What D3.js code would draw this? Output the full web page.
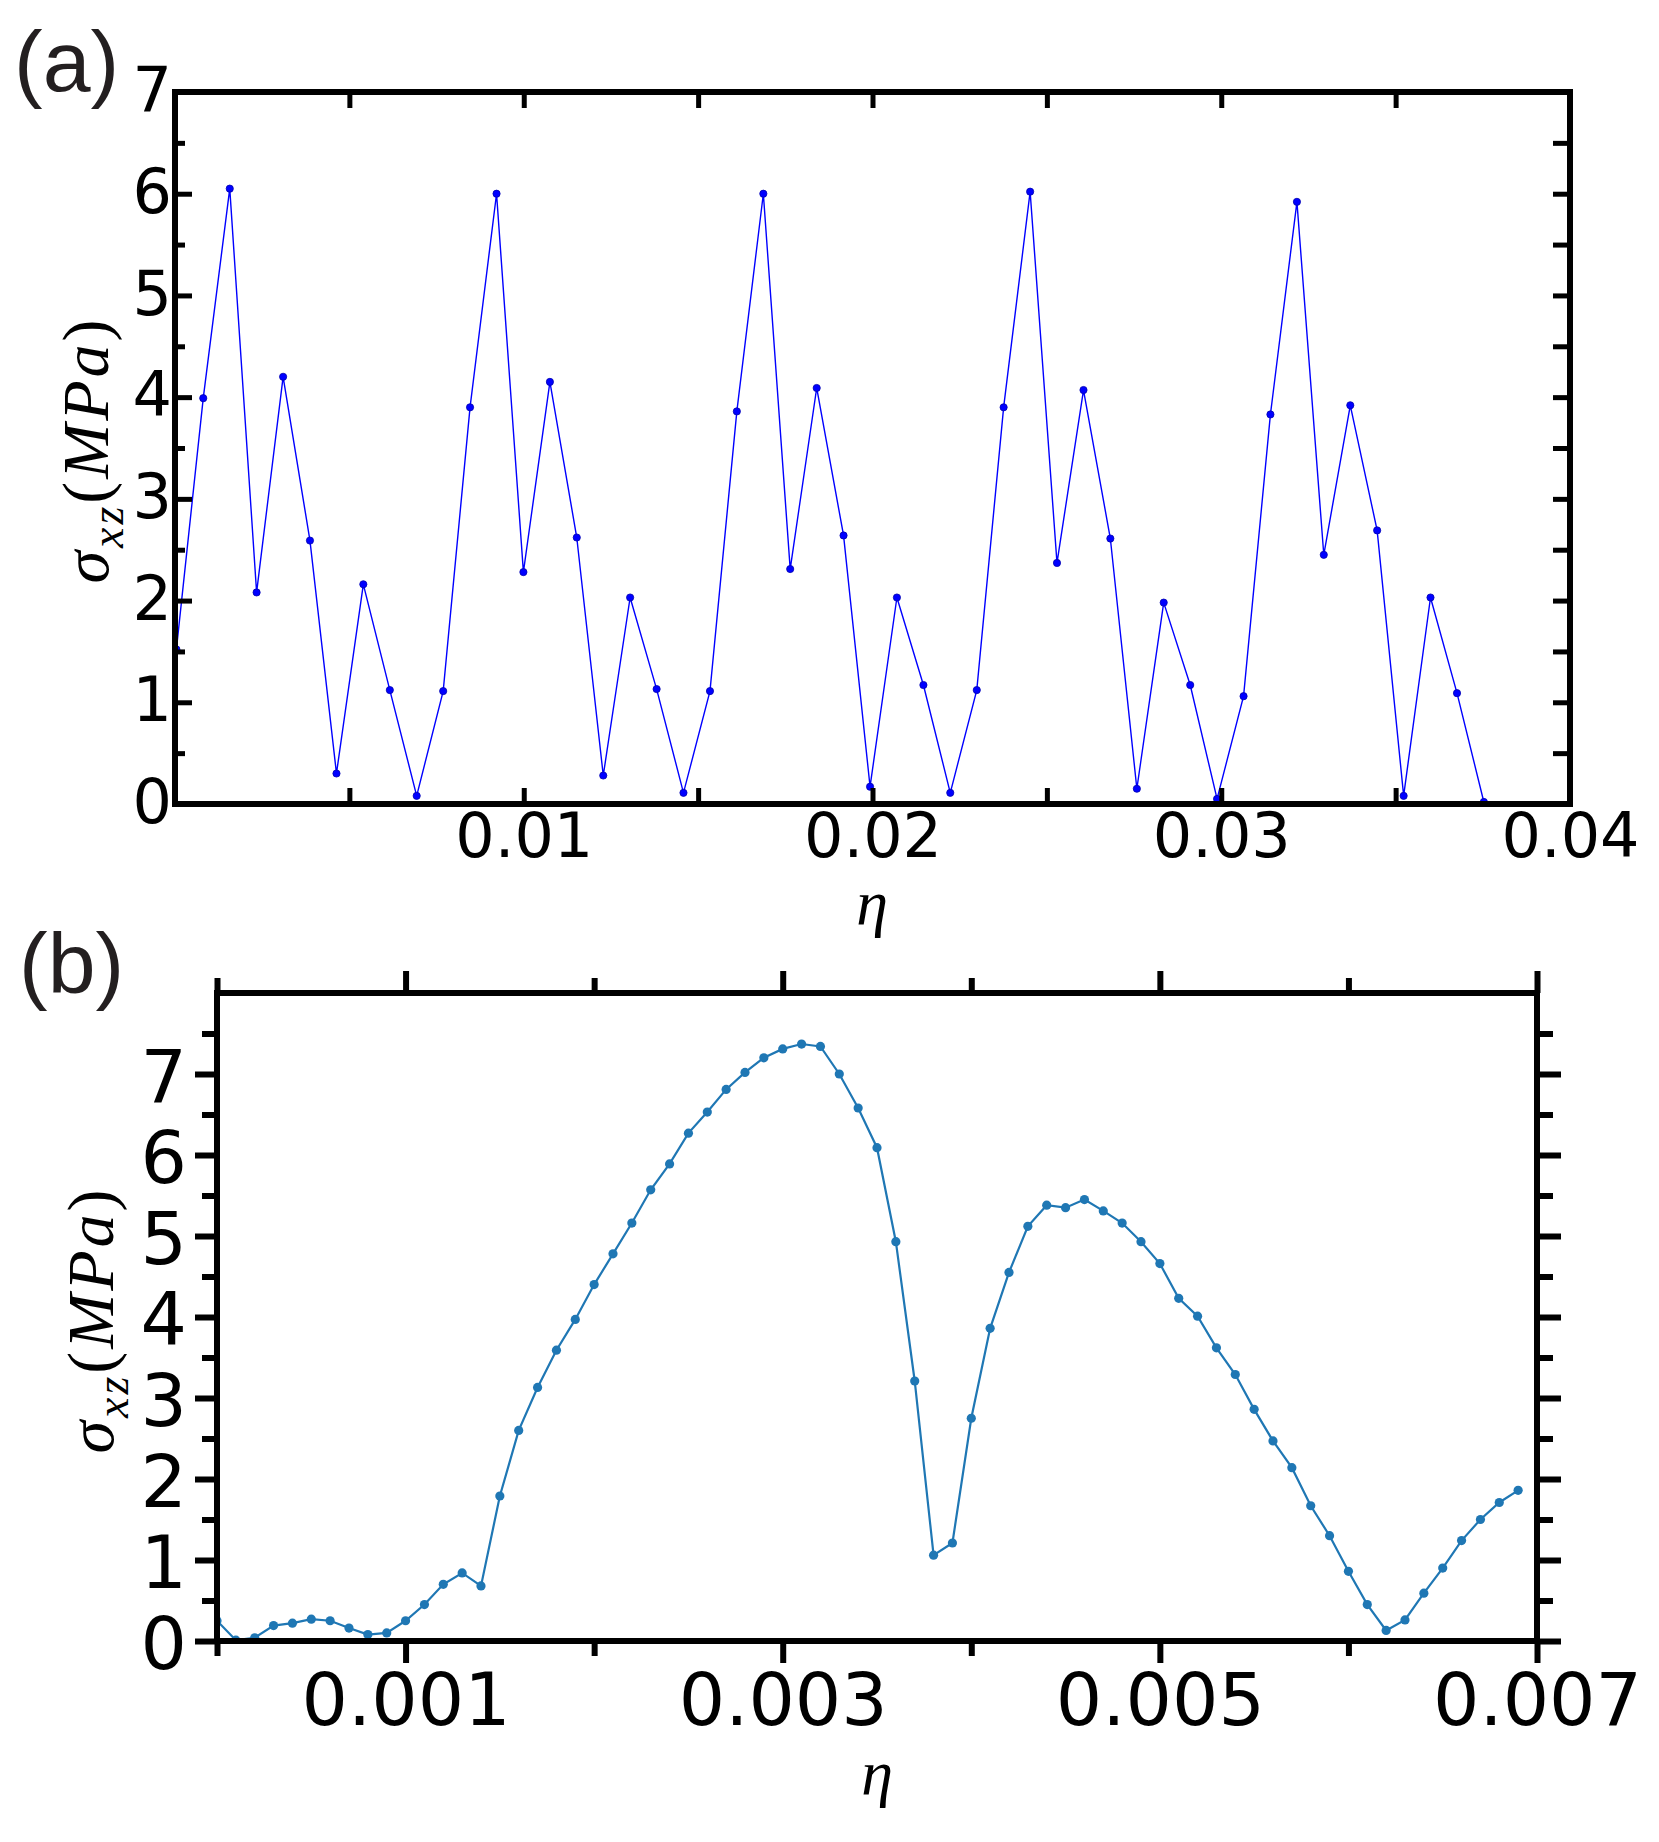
<!DOCTYPE html>
<html>
<head>
<meta charset="utf-8">
<script src="https://cdn.jsdelivr.net/npm/d3@7"></script>
<style>
  body { margin: 0; background: #fff; }
</style>
</head>
<body>
<svg id="fig" width="1659" height="1842"></svg>
<script>
// panel (a): stress-strain, 50 points
var etaA = [0.00004, 0.00081, 0.00157, 0.00234, 0.00310, 0.00387, 0.00463, 0.00540, 0.00616, 0.00693,
            0.00769, 0.00846, 0.00922, 0.00999, 0.01075, 0.01152, 0.01228, 0.01305, 0.01381, 0.01458,
            0.01534, 0.01611, 0.01687, 0.01764, 0.01840, 0.01917, 0.01993, 0.02070, 0.02146, 0.02223,
            0.02299, 0.02376, 0.02452, 0.02529, 0.02605, 0.02682, 0.02758, 0.02835, 0.02911, 0.02988,
            0.03064, 0.03141, 0.03217, 0.03294, 0.03370, 0.03447, 0.03523, 0.03600, 0.03676, 0.03753];
var sigmaA = [1.52, 3.99, 6.05, 2.08, 4.20, 2.59, 0.30, 2.16, 1.12, 0.08,
              1.11, 3.90, 6.00, 2.28, 4.15, 2.62, 0.28, 2.03, 1.13, 0.11,
              1.11, 3.86, 6.00, 2.31, 4.09, 2.64, 0.17, 2.03, 1.17, 0.11,
              1.12, 3.90, 6.02, 2.37, 4.07, 2.61, 0.15, 1.98, 1.17, 0.05,
              1.06, 3.83, 5.92, 2.45, 3.92, 2.69, 0.08, 2.03, 1.09, 0.02];

// panel (b): 70 points
var etaB = [0.0000, 0.0001, 0.0002, 0.0003, 0.0004, 0.0005, 0.0006, 0.0007, 0.0008, 0.0009,
            0.0010, 0.0011, 0.0012, 0.0013, 0.0014, 0.0015, 0.0016, 0.0017, 0.0018, 0.0019,
            0.0020, 0.0021, 0.0022, 0.0023, 0.0024, 0.0025, 0.0026, 0.0027, 0.0028, 0.0029,
            0.0030, 0.0031, 0.0032, 0.0033, 0.0034, 0.0035, 0.0036, 0.0037, 0.0038, 0.0039,
            0.0040, 0.0041, 0.0042, 0.0043, 0.0044, 0.0045, 0.0046, 0.0047, 0.0048, 0.0049,
            0.0050, 0.0051, 0.0052, 0.0053, 0.0054, 0.0055, 0.0056, 0.0057, 0.0058, 0.0059,
            0.0060, 0.0061, 0.0062, 0.0063, 0.0064, 0.0065, 0.0066, 0.0067, 0.0068, 0.0069];
var sigmaB = [0.25, 0.01, 0.04, 0.19, 0.22, 0.27, 0.25, 0.16, 0.08, 0.10,
              0.25, 0.45, 0.70, 0.84, 0.68, 1.79, 2.60, 3.13, 3.59, 3.97,
              4.40, 4.78, 5.16, 5.57, 5.89, 6.27, 6.53, 6.81, 7.02, 7.20,
              7.31, 7.37, 7.34, 7.00, 6.58, 6.09, 4.93, 3.21, 1.06, 1.21,
              2.75, 3.86, 4.55, 5.12, 5.38, 5.35, 5.45, 5.31, 5.16, 4.93,
              4.66, 4.23, 4.01, 3.62, 3.29, 2.86, 2.47, 2.14, 1.67, 1.30,
              0.86, 0.45, 0.13, 0.26, 0.59, 0.90, 1.24, 1.50, 1.71, 1.86];

// ticks
var xTicksA = [0.005, 0.01, 0.015, 0.02, 0.025, 0.03, 0.035];
var xLabelValsA = [0.01, 0.02, 0.03, 0.04];
var xLabelsA = ["0.01", "0.02", "0.03", "0.04"];
var yMajorA = [1, 2, 3, 4, 5, 6];
var yMinorA = [0.5, 1.5, 2.5, 3.5, 4.5, 5.5, 6.5];
var yLabelValsA = [0, 1, 2, 3, 4, 5, 6, 7];
var yLabelsA = ["0", "1", "2", "3", "4", "5", "6", "7"];

var xMajorB = [0.001, 0.003, 0.005, 0.007];
var xMinorB = [0, 0.002, 0.004, 0.006];
var xLabelsB = ["0.001", "0.003", "0.005", "0.007"];
var yMajorB = [0, 1, 2, 3, 4, 5, 6, 7];
var yMinorB = [0.5, 1.5, 2.5, 3.5, 4.5, 5.5, 6.5, 7.5];
var yLabelsB = ["0", "1", "2", "3", "4", "5", "6", "7"];

var svg = d3.select('#fig');
svg.append('rect').attr('width', 1659).attr('height', 1842).attr('fill', '#fff');

function tickGroup(g, axisFn, scale, values, len, tx, ty, width) {
    var a = g.append('g')
        .attr('transform', `translate(${tx},${ty})`)
        .call(axisFn(scale).tickValues(values).tickSize(len).tickFormat(() => ''));
    a.select('.domain').remove();
    a.selectAll('.tick line').attr('stroke', '#000').attr('stroke-width', width);
    return a;
}

function labelGroup(g, axisFn, scale, values, labels, tx, ty, size) {
    var a = g.append('g')
        .attr('transform', `translate(${tx},${ty})`)
        .call(axisFn(scale).tickValues(values).tickSize(0).tickFormat((d, i) => labels[i]));
    a.select('.domain').remove();
    a.selectAll('.tick line').remove();
    a.selectAll('text')
        .attr('fill', '#000')
        .style('font-family', '"DejaVu Sans"')
        .style('font-size', size + 'px');
    return a;
}

function sigmaLabel(tx, ty) {
    var t = svg.append('text')
        .attr('transform', `translate(${tx},${ty}) rotate(-90)`)
        .attr('text-anchor', 'middle')
        .style('font-family', '"Liberation Serif"')
        .style('font-size', '66px')
        .style('letter-spacing', '3px')
        .attr('fill', '#000');
    t.append('tspan').style('font-style', 'italic').text('σ');
    t.append('tspan').style('font-style', 'italic').style('font-size', '46px').attr('dy', 15).text('xz');
    t.append('tspan').attr('dy', -15).text('(');
    t.append('tspan').style('font-style', 'italic').text('MPa');
    t.append('tspan').text(')');
}

function etaLabel(tx, ty) {
    svg.append('text')
        .attr('x', tx).attr('y', ty)
        .attr('text-anchor', 'middle')
        .style('font-family', '"Liberation Serif"')
        .style('font-style', 'italic')
        .style('font-size', '64px')
        .attr('fill', '#000')
        .text('η');
}

function panelTag(txt, tx, ty) {
    svg.append('text')
        .attr('x', tx).attr('y', ty)
        .style('font-family', '"Liberation Sans"')
        .style('font-size', '86px')
        .attr('fill', '#231f20')
        .text(txt);
}

// ---------- panel (a) ----------
(function () {
    var L = 175, R = 1570, T = 92, B = 804;
    var x = d3.scaleLinear().domain([0, 0.04]).range([L, R]);
    var y = d3.scaleLinear().domain([0, 7]).range([B, T]);
    var g = svg.append('g');

    svg.append('clipPath').attr('id', 'clipA')
        .append('rect').attr('x', L).attr('y', T).attr('width', R - L).attr('height', B - T);

    var pts = d3.zip(etaA, sigmaA);
    var plot = g.append('g').attr('clip-path', 'url(#clipA)');
    plot.append('path')
        .datum(pts)
        .attr('d', d3.line().x(d => x(d[0])).y(d => y(d[1])))
        .attr('fill', 'none')
        .attr('stroke', '#0000ff')
        .attr('stroke-width', 1.4);
    plot.selectAll('circle')
        .data(pts)
        .enter()
        .append('circle')
        .attr('cx', d => x(d[0]))
        .attr('cy', d => y(d[1]))
        .attr('r', 3.6)
        .attr('fill', '#0000ff')
        .attr('stroke', '#0000b0')
        .attr('stroke-width', 0.8);

    // inward ticks
    tickGroup(g, d3.axisBottom, x, xTicksA, -16, 0, B, 5);
    tickGroup(g, d3.axisTop, x, xTicksA, -16, 0, T, 5);
    tickGroup(g, d3.axisLeft, y, yMajorA, -17, L, 0, 5);
    tickGroup(g, d3.axisLeft, y, yMinorA, -10, L, 0, 5);
    tickGroup(g, d3.axisRight, y, yMajorA.concat(yMinorA), -17, R, 0, 5);

    g.append('rect')
        .attr('x', L).attr('y', T).attr('width', R - L).attr('height', B - T)
        .attr('fill', 'none').attr('stroke', '#000').attr('stroke-width', 6);

    labelGroup(g, d3.axisBottom, x, xLabelValsA, xLabelsA, 0, B, 62)
        .selectAll('text').attr('y', 53).attr('dy', 0);
    labelGroup(g, d3.axisLeft, y, yLabelValsA, yLabelsA, L, 0, 62)
        .selectAll('text').attr('x', -3).attr('dy', '0.30em');

    sigmaLabel(108, 450);
    etaLabel(872, 924);
    panelTag('(a)', 14, 91);
})();

// ---------- panel (b) ----------
(function () {
    var L = 217, R = 1537, T = 993, B = 1641;
    var x = d3.scaleLinear().domain([0, 0.007]).range([L, R]);
    var y = d3.scaleLinear().domain([0, 8]).range([B, T]);
    var g = svg.append('g');

    svg.append('clipPath').attr('id', 'clipB')
        .append('rect').attr('x', L).attr('y', T).attr('width', R - L).attr('height', B - T);

    var pts = d3.zip(etaB, sigmaB);
    var plot = g.append('g').attr('clip-path', 'url(#clipB)');
    plot.append('path')
        .datum(pts)
        .attr('d', d3.line().x(d => x(d[0])).y(d => y(d[1])))
        .attr('fill', 'none')
        .attr('stroke', '#1f77b4')
        .attr('stroke-width', 2.2);
    plot.selectAll('circle')
        .data(pts)
        .enter()
        .append('circle')
        .attr('cx', d => x(d[0]))
        .attr('cy', d => y(d[1]))
        .attr('r', 4.6)
        .attr('fill', '#1f77b4');

    // outward ticks
    tickGroup(g, d3.axisBottom, x, xMajorB, 22, 0, B, 6);
    tickGroup(g, d3.axisBottom, x, xMinorB, 15, 0, B, 6);
    tickGroup(g, d3.axisTop, x, xMajorB, 22, 0, T, 6);
    tickGroup(g, d3.axisTop, x, xMinorB, 15, 0, T, 6);
    tickGroup(g, d3.axisLeft, y, yMajorB, 22, L, 0, 6);
    tickGroup(g, d3.axisLeft, y, yMinorB, 15, L, 0, 6);
    tickGroup(g, d3.axisRight, y, yMajorB, 24, R, 0, 6);
    tickGroup(g, d3.axisRight, y, yMinorB, 16, R, 0, 6);

    g.append('rect')
        .attr('x', L).attr('y', T).attr('width', R - L).attr('height', B - T)
        .attr('fill', 'none').attr('stroke', '#000').attr('stroke-width', 6);

    labelGroup(g, d3.axisBottom, x, xMajorB, xLabelsB, 0, B, 73)
        .selectAll('text').attr('y', 84).attr('dy', 0);
    labelGroup(g, d3.axisLeft, y, yMajorB, yLabelsB, L, 0, 73)
        .selectAll('text').attr('x', -30).attr('dy', '0.38em');

    sigmaLabel(113, 1320);
    etaLabel(877, 1794);
    panelTag('(b)', 19, 993);
})();
</script>
</body>
</html>
